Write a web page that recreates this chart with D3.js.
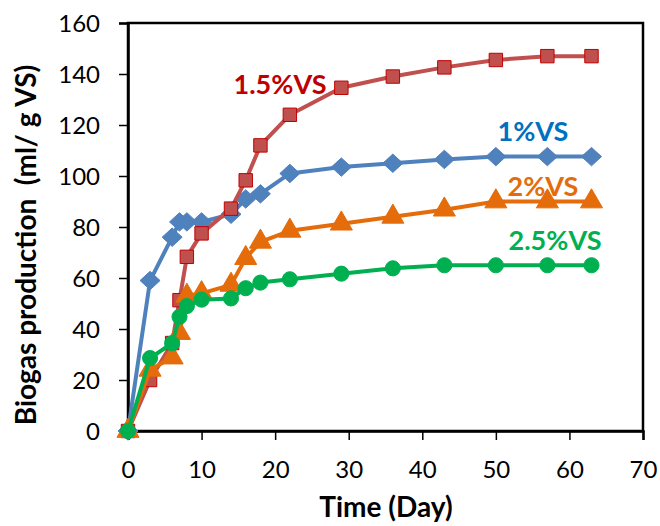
<!DOCTYPE html>
<html>
<head>
<meta charset="utf-8">
<script src="https://cdn.jsdelivr.net/npm/d3@7"></script>
<style>
  body { margin: 0; background: #fff; }
  text { font-family: Lato, "Open Sans", sans-serif; }
</style>
</head>
<body>
<div id="chart"></div>
<script>
// days of measurement
var days = [0, 3, 6, 7, 8, 10, 14, 16, 18, 22, 29, 36, 43, 50, 57, 63];

// biogas production (ml/ g VS) per loading
var vs1   = [0, 59, 76, 82, 82, 82, 85, 91, 93, 101, 103.5, 105, 106.5, 107.6, 107.6, 107.6];
var vs15  = [0, 20, 34.5, 51.3, 68.3, 77.5, 87.2, 98.3, 112, 124, 134.6, 139, 142.6, 145.5, 147, 147];
var vs2   = [0, 24, 28.8, 38.4, 53, 54, 57.3, 67.8, 74.2, 78.5, 81.3, 84, 86.8, 90, 90, 90];
var vs25  = [0, 28.6, 34.4, 44.8, 49, 51.5, 52, 56, 58.2, 59.5, 61.7, 63.8, 65, 65, 65, 65];

var xTicks = [0, 10, 20, 30, 40, 50, 60, 70];
var yTicks = [0, 20, 40, 60, 80, 100, 120, 140, 160];

var series = [
    { name: "1%VS",   values: vs1,  color: "#4F81BD", stroke: "#4F81BD", shape: "diamond",  label: "#0070C0", lx: 533, ly: 132 },
    { name: "1.5%VS", values: vs15, color: "#C0504D", stroke: "#C00000", shape: "square",   label: "#C00000", lx: 280, ly: 85 },
    { name: "2%VS",   values: vs2,  color: "#E46C0A", stroke: "#E46C0A", shape: "triangle", label: "#E46C0A", lx: 543, ly: 187 },
    { name: "2.5%VS", values: vs25, color: "#00B050", stroke: "#00B050", shape: "circle",   label: "#00B050", lx: 555, ly: 241 }
];

var margin = { top: 23, right: 17, bottom: 95, left: 128 };
var width = 660, height = 526;
var w = width - margin.left - margin.right;
var h = height - margin.top - margin.bottom;

var svg = d3.select("#chart").append("svg")
    .attr("width", width)
    .attr("height", height)
    .append("g")
    .attr("transform", "translate(" + margin.left + "," + margin.top + ")");

var x = d3.scaleLinear().domain([0, 70]).range([0, w]);
var y = d3.scaleLinear().domain([0, 160]).range([h, 0]);

// frame
svg.append("rect")
    .attr("width", w).attr("height", h)
    .attr("fill", "none").attr("stroke", "#000").attr("stroke-width", 2.5);

// axes
var xAxis = svg.append("g")
    .attr("transform", "translate(0," + h + ")")
    .call(d3.axisBottom(x).tickValues(xTicks).tickSize(9).tickPadding(21));
var yAxis = svg.append("g")
    .call(d3.axisLeft(y).tickValues(yTicks).tickSize(9).tickPadding(19));

[xAxis, yAxis].forEach(function (a) {
    a.select(".domain").attr("stroke", "#000").attr("stroke-width", 2.5);
    a.selectAll(".tick line").attr("stroke", "#000").attr("stroke-width", 1.5);
    a.selectAll(".tick text")
        .attr("fill", "#000")
        .style("font-size", "24px")
        .style("font-family", "Lato, sans-serif");
});
yAxis.selectAll(".tick text").attr("dy", "0.35em");

// titles
svg.append("text")
    .attr("x", 386 - margin.left)
    .attr("y", 517 - margin.top)
    .attr("text-anchor", "middle")
    .style("font-size", "28px").style("font-weight", "bold")
    .text("Time (Day)");

svg.append("text")
    .attr("transform", "translate(" + (26 - margin.left) + "," + (245 - margin.top) + ") rotate(-90)")
    .attr("dy", "0.35em")
    .attr("text-anchor", "middle")
    .style("font-size", "28px").style("font-weight", "bold")
    .style("white-space", "pre")
    .text("Biogas production  (ml/ g VS)");

var line = d3.line()
    .x(function (d) { return x(d.t); })
    .y(function (d) { return y(d.v); });

// Excel-like diamond: nearly square, rotated 45 degrees
var diamondType = {
    draw: function (ctx, size) {
        var r = Math.sqrt(size / 2);
        ctx.moveTo(0, -r * 0.92);
        ctx.lineTo(r, 0);
        ctx.lineTo(0, r * 0.92);
        ctx.lineTo(-r, 0);
        ctx.closePath();
    }
};

var symbols = {
    diamond: d3.symbol().type(diamondType).size(200),
    square: d3.symbol().type(d3.symbolSquare).size(180),
    triangle: d3.symbol().type(d3.symbolTriangle).size(210),
    circle: d3.symbol().type(d3.symbolCircle).size(180)
};

series.forEach(function (s) {
    var pts = days.map(function (t, i) { return { t: t, v: s.values[i] }; });

    svg.append("path")
        .datum(pts)
        .attr("fill", "none")
        .attr("stroke", s.color)
        .attr("stroke-width", 4)
        .attr("stroke-linejoin", "round")
        .attr("d", line);

    svg.selectAll(".m-" + s.shape)
        .data(pts)
        .enter().append("path")
        .attr("class", "m-" + s.shape)
        .attr("transform", function (d) { return "translate(" + x(d.t) + "," + y(d.v) + ")"; })
        .attr("d", symbols[s.shape])
        .attr("fill", s.color)
        .attr("stroke", s.stroke)
        .attr("stroke-width", 1);

    svg.append("text")
        .attr("x", s.lx - margin.left)
        .attr("y", s.ly - margin.top)
        .attr("dy", "0.35em")
        .attr("text-anchor", "middle")
        .attr("fill", s.label)
        .style("font-size", "27px").style("font-weight", "bold")
        .text(s.name);
});
</script>
</body>
</html>
